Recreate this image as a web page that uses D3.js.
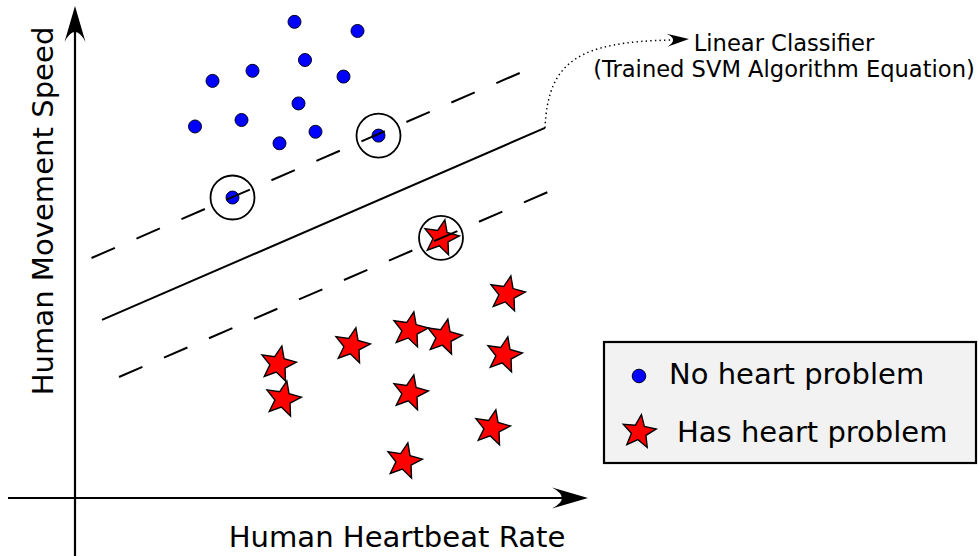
<!DOCTYPE html>
<html>
<head>
<meta charset="utf-8">
<script src="https://cdn.jsdelivr.net/npm/d3@7/dist/d3.min.js"></script>
<style>
  html, body { margin: 0; padding: 0; background: #fff; }
  svg { display: block; }
  text { font-family: "DejaVu Sans", sans-serif; fill: #000; }
</style>
</head>
<body>
<svg id="chart" width="978" height="556"></svg>
<script>
// Observations: heartbeat rate (x) and movement speed (y), arbitrary units 0–100
const healthyX = [43.9, 56.5, 46.0, 35.5, 27.5, 53.7, 44.7, 24.0, 33.3, 48.1, 40.9];
const healthyY = [99.2, 97.3, 91.25, 89.0, 86.9, 87.8, 82.2, 77.4, 78.75, 76.3, 73.9];
const heartX = [86.4, 67.0, 73.8, 55.4, 40.6, 85.8, 41.6, 67.0, 83.4, 65.8];
const heartY = [42.5, 35.0, 33.5, 31.7, 27.9, 29.8, 20.6, 21.9, 14.6, 7.7];

// Support vectors lying on the margins
const supportHealthyX = [60.7, 31.5];
const supportHealthyY = [75.5, 62.6];
const supportHeartX = [73.2];
const supportHeartY = [54.2];

// Decision boundary and margins: [x0, y0, x1, y1]
const boundaryLine = [5.4, 37.1, 94.0, 77.1];
const upperMargin = [3.3, 50.0, 89.4, 88.75];
const lowerMargin = [8.8, 25.2, 94.6, 63.75];

const legendLabels = ["No heart problem", "Has heart problem"];
const xAxisLabel = "Human Heartbeat Rate";
const yAxisLabel = "Human Movement Speed";
const noteLines = ["Linear Classifier", "(Trained SVM Algorithm Equation)"];

const svg = d3.select("#chart");

const x = d3.scaleLinear().domain([0, 100]).range([75, 575]);
const y = d3.scaleLinear().domain([0, 100]).range([498, 18]);

// Five-pointed star symbol with a fuller body than d3.symbolStar
const fatStar = {
  draw(ctx, size) {
    const R = Math.sqrt(size), r = R * 0.44;
    for (let i = 0; i < 10; i++) {
      const a = -Math.PI / 2 + i * Math.PI / 5;
      const rad = i % 2 ? r : R;
      const px = Math.cos(a) * rad, py = Math.sin(a) * rad;
      if (i === 0) ctx.moveTo(px, py); else ctx.lineTo(px, py);
    }
    ctx.closePath();
  }
};
const starPath = d3.symbol().type(fatStar).size(18.5 * 18.5)();
const legendStarPath = d3.symbol().type(fatStar).size(17.5 * 17.5)();

// Arrowhead with a concave back, tip at the origin, pointing along +x
function arrowHead(len, half) {
  const p = d3.path();
  p.moveTo(0, 0);
  p.lineTo(-len, -half);
  p.quadraticCurveTo(-len * 0.45, 0, -len, half);
  p.closePath();
  return p.toString();
}

// Axes
const xAxisY = y(0), yAxisX = x(0);
svg.append("line")
  .attr("x1", 8).attr("y1", xAxisY).attr("x2", 580).attr("y2", xAxisY)
  .attr("stroke", "#000").attr("stroke-width", 2.2);
svg.append("path")
  .attr("d", arrowHead(36, 10.5))
  .attr("transform", `translate(588,${xAxisY})`)
  .attr("fill", "#000");
svg.append("line")
  .attr("x1", yAxisX).attr("y1", 556).attr("x2", yAxisX).attr("y2", 14)
  .attr("stroke", "#000").attr("stroke-width", 2.2);
svg.append("path")
  .attr("d", arrowHead(36, 10.5))
  .attr("transform", `translate(${yAxisX},6) rotate(-90)`)
  .attr("fill", "#000");

svg.append("text")
  .attr("x", 397).attr("y", 547)
  .attr("text-anchor", "middle")
  .attr("font-size", 29.1)
  .text(xAxisLabel);
svg.append("text")
  .attr("transform", "translate(53,211) rotate(-90)")
  .attr("text-anchor", "middle")
  .attr("font-size", 29.1)
  .text(yAxisLabel);

// Healthy observations
const healthy = healthyX.map((v, i) => [v, healthyY[i]])
  .concat(supportHealthyX.map((v, i) => [v, supportHealthyY[i]]));
svg.append("g").selectAll("circle").data(healthy).join("circle")
  .attr("cx", d => x(d[0])).attr("cy", d => y(d[1]))
  .attr("r", 6.5)
  .attr("fill", "#0000ff").attr("stroke", "#000022").attr("stroke-width", 1);

// Heart-problem observations
const heart = heartX.map((v, i) => [v, heartY[i]])
  .concat(supportHeartX.map((v, i) => [v, supportHeartY[i]]));
svg.append("g").selectAll("path").data(heart).join("path")
  .attr("d", starPath)
  .attr("transform", d => `translate(${x(d[0])},${y(d[1])}) rotate(12)`)
  .attr("fill", "#ff0000").attr("stroke", "#000").attr("stroke-width", 1.4)
  .attr("stroke-linejoin", "miter");

// Classifier and margins
const segment = d3.line().x(d => x(d[0])).y(d => y(d[1]));
const asPts = l => [[l[0], l[1]], [l[2], l[3]]];
svg.append("path").attr("d", segment(asPts(boundaryLine)))
  .attr("fill", "none").attr("stroke", "#000").attr("stroke-width", 2);
[upperMargin, lowerMargin].forEach(l => {
  svg.append("path").attr("d", segment(asPts(l)))
    .attr("fill", "none").attr("stroke", "#000").attr("stroke-width", 2)
    .attr("stroke-dasharray", "25.5 23.5");
});

// Rings around support vectors
const supports = supportHealthyX.map((v, i) => [v, supportHealthyY[i]])
  .concat(supportHeartX.map((v, i) => [v, supportHeartY[i]]));
svg.append("g").selectAll("circle").data(supports).join("circle")
  .attr("cx", d => x(d[0])).attr("cy", d => y(d[1]))
  .attr("r", 22)
  .attr("fill", "none").attr("stroke", "#000").attr("stroke-width", 1.8);

// Dotted leader from the end of the classifier to its note
const sx = x(boundaryLine[2]), sy = y(boundaryLine[3]);
const leader = d3.path();
leader.moveTo(sx, sy);
leader.bezierCurveTo(sx + 3, sy - 68, sx + 35, sy - 86, 672, 40);
svg.append("path").attr("d", leader.toString())
  .attr("fill", "none").attr("stroke", "#000").attr("stroke-width", 1.5)
  .attr("stroke-dasharray", "1.4 3.2");
svg.append("path")
  .attr("d", arrowHead(22, 6.5))
  .attr("transform", "translate(689,39) rotate(-3)")
  .attr("fill", "#000");

svg.append("g").selectAll("text").data(noteLines).join("text")
  .attr("x", 784).attr("y", (d, i) => 51 + i * 26)
  .attr("text-anchor", "middle")
  .attr("font-size", 22.6)
  .text(d => d);

// Legend
const legend = svg.append("g");
legend.append("rect")
  .attr("x", 604).attr("y", 342).attr("width", 372).attr("height", 121)
  .attr("fill", "#f2f2f2").attr("stroke", "#000").attr("stroke-width", 2.2);
legend.append("circle")
  .attr("cx", 639).attr("cy", 376).attr("r", 6.8)
  .attr("fill", "#0000ff").attr("stroke", "#000022").attr("stroke-width", 1);
legend.append("path")
  .attr("d", legendStarPath)
  .attr("transform", "translate(639,432) rotate(8)")
  .attr("fill", "#ff0000").attr("stroke", "#000").attr("stroke-width", 1.4);
legend.selectAll("text").data(legendLabels).join("text")
  .attr("x", (d, i) => i ? 677 : 669)
  .attr("y", (d, i) => i ? 442 : 384)
  .attr("font-size", 29)
  .text(d => d);
</script>
</body>
</html>
